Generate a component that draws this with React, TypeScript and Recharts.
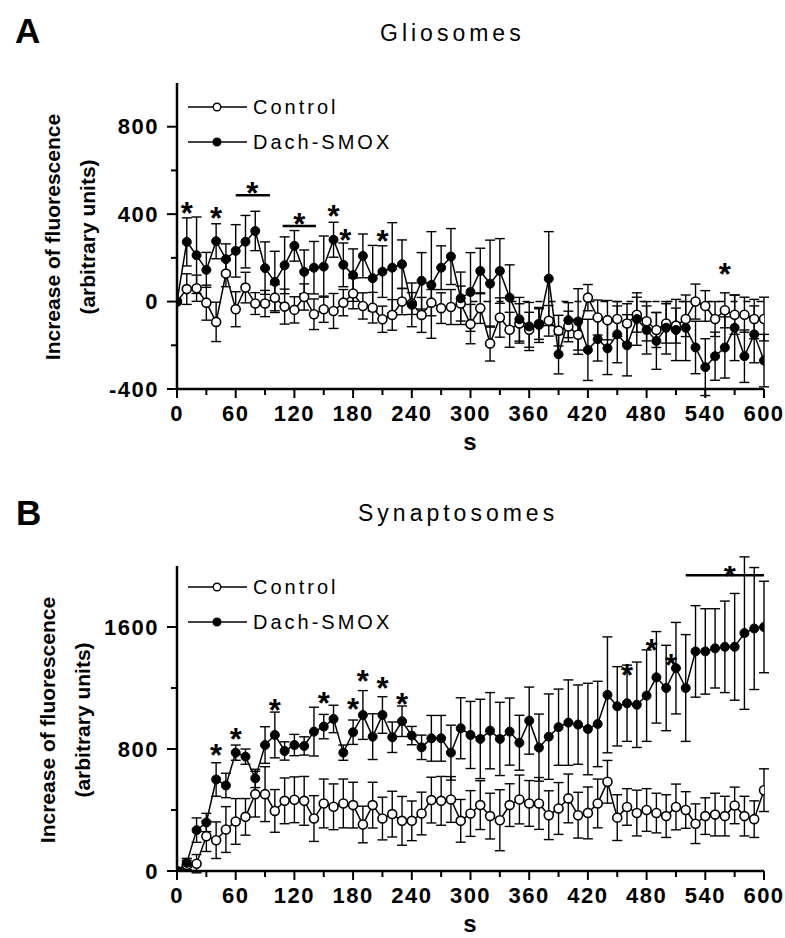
import React from "react";
import {
  ComposedChart,
  Line,
  XAxis,
  YAxis,
  ErrorBar,
  ReferenceLine,
  Scatter,
} from "recharts";

// time points (s)
const seconds = [
  0, 10, 20, 30, 40, 50, 60, 70, 80, 90, 100, 110, 120, 130, 140, 150, 160, 170, 180, 190,
  200, 210, 220, 230, 240, 250, 260, 270, 280, 290, 300, 310, 320, 330, 340, 350, 360, 370,
  380, 390, 400, 410, 420, 430, 440, 450, 460, 470, 480, 490, 500, 510, 520, 530, 540, 550,
  560, 570, 580, 590, 600,
];

const xTicks = [
  0, 30, 60, 90, 120, 150, 180, 210, 240, 270, 300, 330, 360, 390, 420, 450, 480, 510, 540,
  570, 600,
];

// Panel A - Gliosomes
const glioControl = [
  0, 57, 61, -5, -93, 128, -35, 64, -9, -9, 18, -23, -38, 21, -58, -35, -43, -5, 37, -20,
  -28, -81, -61, 0, -9, -61, -5, -30, -25, -9, -103, -30, -192, -73, -129, -100, -129, -103,
  -88, -133, -114, -152, 18, -73, -85, -80, -100, -60, -90, -130, -100, -110, -80, 0, -20,
  -80, -40, -60, -60, -80, -80,
];
const glioControlErr = [
  0, 70, 60, 80, 90, 60, 80, 70, 50, 60, 60, 80, 60, 60, 70, 60, 80, 60, 70, 60,
  70, 60, 70, 60, 50, 80, 60, 70, 80, 80, 90, 70, 80, 90, 80, 90, 80, 70, 70, 70,
  70, 70, 60, 80, 90, 80, 90, 80, 90, 80, 90, 80, 80, 80, 70, 80, 80, 90, 80, 90, 100,
];
const glioSmox = [
  0, 273, 212, 145, 276, 194, 232, 274, 323, 153, 90, 166, 255, 136, 155, 160, 283, 168,
  121, 209, 107, 137, 155, 171, -15, 95, 76, 155, 206, 15, 44, 140, 82, 140, 18, -81, -114,
  -107, 105, -241, -85, -91, -221, -172, -214, -150, -200, -80, -130, -180, -120, -130, -120,
  -210, -300, -250, -210, -120, -250, -150, -270,
];
const glioSmoxErr = [
  0, 110, 175, 80, 80, 70, 120, 120, 90, 120, 140, 130, 70, 100, 120, 140, 80, 100, 120, 100,
  150, 118, 206, 111, 100, 129, 244, 100, 128, 120, 180, 104, 199, 148, 150, 100, 110, 80,
  215, 90, 80, 150, 140, 100, 120, 130, 140, 120, 110, 130, 120, 140, 150, 120, 130, 110, 140,
  150, 120, 130, 120,
];
const glioStars = [
  { s: 10, y: 447 },
  { s: 40, y: 424 },
  { s: 77, y: 538 },
  { s: 125, y: 400 },
  { s: 160, y: 433 },
  { s: 172, y: 323 },
  { s: 210, y: 320 },
  { s: 560, y: 170 },
];
const glioBars = [
  { from: 60, to: 95, y: 486 },
  { from: 108, to: 142, y: 346 },
];

// Panel B - Synaptosomes
const synControl = [
  0, 40, 48, 228, 202, 272, 325, 355, 504, 504, 394, 460, 467, 460, 344, 443, 421, 443, 432,
  305, 432, 344, 373, 329, 329, 377, 465, 460, 469, 329, 377, 432, 360, 333, 432, 469, 443,
  443, 366, 410, 476, 366, 381, 443, 585, 350, 420, 380, 400, 380, 360, 420, 400, 310, 360,
  370, 360, 430, 360, 340, 530,
];
const synControlErr = [
  0, 30, 60, 100, 120, 150, 150, 120, 150, 180, 140, 150, 150, 160, 150, 160, 150, 160, 150,
  120, 150, 140, 150, 160, 130, 140, 150, 160, 150, 140, 150, 160, 150, 200, 140, 160, 150,
  170, 160, 170, 160, 150, 170, 160, 140, 150, 120, 150, 140, 130, 140, 150, 120, 130, 120,
  140, 130, 120, 130, 120, 140,
];
const synSmox = [
  0, 53, 268, 318, 600, 561, 776, 750, 607, 826, 892, 787, 826, 820, 914, 947, 997, 776, 910,
  1023, 881, 1023, 877, 982, 888, 811, 870, 870, 776, 936, 892, 866, 920, 866, 914, 841, 986,
  809, 881, 943, 973, 960, 931, 964, 1155, 1080, 1100, 1090, 1150, 1270, 1200, 1330, 1200,
  1440, 1440, 1460, 1470, 1470, 1560, 1590, 1600,
];
const synSmoxErr = [
  0, 30, 80, 60, 110, 80, 50, 50, 60, 120, 150, 60, 70, 60, 160, 80, 90, 50, 80, 160, 150,
  120, 100, 100, 60, 80, 150, 150, 180, 200, 220, 260, 250, 240, 220, 180, 220, 220, 280, 250,
  280, 260, 300, 280, 380, 260, 250, 280, 300, 300, 280, 300, 350, 300, 280, 260, 300, 350,
  500, 400, 300,
];
const synStars = [
  { s: 40, y: 826 },
  { s: 60, y: 925 },
  { s: 100, y: 1117 },
  { s: 150, y: 1166 },
  { s: 180, y: 1122 },
  { s: 190, y: 1308 },
  { s: 210, y: 1260 },
  { s: 230, y: 1155 },
  { s: 460, y: 1350 },
  { s: 485, y: 1510 },
  { s: 505, y: 1410 },
  { s: 565, y: 2000 },
];
const synBars = [{ from: 520, to: 600, y: 1940 }];

const glioData = seconds.map((s, i) => ({
  s,
  ctrl: glioControl[i],
  ctrlErr: glioControlErr[i],
  smox: glioSmox[i],
  smoxErr: glioSmoxErr[i],
}));

const synData = seconds.map((s, i) => ({
  s,
  ctrl: synControl[i],
  ctrlErr: synControlErr[i],
  smox: synSmox[i],
  smoxErr: synSmoxErr[i],
}));

const FONT = "Arial, 'Liberation Sans', Helvetica, sans-serif";

function XTick({ x, y, payload }: any) {
  const major = payload.value % 60 === 0;
  return (
    <g>
      <line x1={x} y1={y} x2={x} y2={y + (major ? 9 : 6)} stroke="#000" strokeWidth={2} />
      {major && (
        <text
          x={x}
          y={y + 24}
          textAnchor="middle"
          dominantBaseline="central"
          fontFamily={FONT}
          fontWeight="bold"
          fontSize={22}
          letterSpacing={1.5}
          fill="#000"
        >
          {payload.value}
        </text>
      )}
    </g>
  );
}

function makeYTick(majorStep: number) {
  return function YTick({ x, y, payload }: any) {
    const major = payload.value % majorStep === 0;
    return (
      <g>
        <line x1={x} y1={y} x2={x - (major ? 10 : 6)} y2={y} stroke="#000" strokeWidth={2} />
        {major && (
          <text
            x={x - 18}
            y={y}
            textAnchor="end"
            dominantBaseline="central"
            fontFamily={FONT}
            fontWeight="bold"
            fontSize={22}
            letterSpacing={1.5}
            fill="#000"
          >
            {payload.value}
          </text>
        )}
      </g>
    );
  };
}

function Star({ cx, cy }: any) {
  return (
    <text
      x={cx}
      y={cy + 10}
      textAnchor="middle"
      dominantBaseline="central"
      fontFamily={FONT}
      fontWeight="bold"
      fontSize={31}
      fill="#000"
    >
      *
    </text>
  );
}

const openDot = { r: 4.5, fill: "#fff", stroke: "#000", strokeWidth: 1.6 };
const filledDot = { r: 4.5, fill: "#000", stroke: "#000", strokeWidth: 1 };

function Panel({
  data,
  yDomain,
  yTicks,
  majorStep,
  stars,
  bars,
  dashed,
  margin,
  height,
}: any) {
  const YTick = makeYTick(majorStep);
  return (
    <ComposedChart width={785} height={height} data={data} margin={margin}>
      <XAxis
        dataKey="s"
        type="number"
        domain={[0, 600]}
        ticks={xTicks}
        interval={0}
        tickSize={0}
        tickMargin={0}
        tick={<XTick />}
        axisLine={{ stroke: "#000", strokeWidth: 2.5 }}
        height={50}
        allowDataOverflow
      />
      <XAxis
        xAxisId="top"
        dataKey="s"
        type="number"
        orientation="top"
        domain={[0, 600]}
        tick={false}
        tickLine={false}
        axisLine={{ stroke: "#000", strokeWidth: 2.5 }}
        height={0}
      />
      <YAxis
        type="number"
        domain={yDomain}
        ticks={yTicks}
        interval={0}
        tickSize={0}
        tickMargin={0}
        tick={<YTick />}
        axisLine={{ stroke: "#000", strokeWidth: 2.5 }}
        width={60}
        allowDataOverflow
      />
      <YAxis
        yAxisId="right"
        orientation="right"
        domain={yDomain}
        tick={false}
        tickLine={false}
        axisLine={{ stroke: "#000", strokeWidth: 2.5 }}
        width={0}
      />
      {dashed && (
        <ReferenceLine
          segment={[
            { x: dashed[0], y: 0 },
            { x: dashed[1], y: 0 },
          ]}
          stroke="#000"
          strokeWidth={1.6}
          strokeDasharray="7 6"
        />
      )}
      <Line
        dataKey="ctrl"
        stroke="#000"
        strokeWidth={1.5}
        dot={openDot}
        activeDot={false}
        isAnimationActive={false}
      >
        <ErrorBar dataKey="ctrlErr" width={5} stroke="#000" strokeWidth={1.4} direction="y" />
      </Line>
      <Line
        dataKey="smox"
        stroke="#000"
        strokeWidth={1.5}
        dot={filledDot}
        activeDot={false}
        isAnimationActive={false}
      >
        <ErrorBar dataKey="smoxErr" width={5} stroke="#000" strokeWidth={1.4} direction="y" />
      </Line>
      {bars.map((b: any, i: number) => (
        <ReferenceLine
          key={i}
          segment={[
            { x: b.from, y: b.y },
            { x: b.to, y: b.y },
          ]}
          stroke="#000"
          strokeWidth={2.5}
        />
      ))}
      <Scatter data={stars} dataKey="y" shape={Star} isAnimationActive={false} />
    </ComposedChart>
  );
}

function LegendBox({ top }: { top: number }) {
  const row = (label: string, filled: boolean, y: number) => (
    <div style={{ position: "absolute", left: 188, top: y - 12, height: 24, display: "flex", alignItems: "center" }}>
      <svg width={60} height={24}>
        <line x1={0} y1={12} x2={59} y2={12} stroke="#000" strokeWidth={1.5} />
        <circle cx={29} cy={12} r={3.8} fill={filled ? "#000" : "#fff"} stroke="#000" strokeWidth={1.4} />
      </svg>
      <span style={{ marginLeft: 5, fontFamily: FONT, fontSize: 20, letterSpacing: 3, color: "#000" }}>
        {label}
      </span>
    </div>
  );
  return (
    <>
      {row("Control", false, top)}
      {row("Dach-SMOX", true, top + 35)}
    </>
  );
}

function YLabel({ cx1, cx2, cy }: { cx1: number; cx2: number; cy: number }) {
  const st = (cx: number): React.CSSProperties => ({
    position: "absolute",
    left: cx,
    top: cy,
    transform: "translate(-50%, -50%) rotate(-90deg)",
    whiteSpace: "nowrap",
    fontFamily: FONT,
    fontWeight: "bold",
    fontSize: 21,
    color: "#000",
  });
  return (
    <>
      <div style={st(cx1)}>Increase of fluorescence</div>
      <div style={st(cx2)}>(arbitrary units)</div>
    </>
  );
}

const textStyle: React.CSSProperties = {
  position: "absolute",
  fontFamily: FONT,
  color: "#000",
  whiteSpace: "nowrap",
  transform: "translateY(-50%)",
};

export default function App() {
  return (
    <div style={{ position: "absolute", left: 0, top: 0, width: 785, height: 938, background: "#fff", overflow: "hidden" }}>
      <div style={{ position: "absolute", left: 0, top: 0 }}>
        <Panel
          data={glioData}
          yDomain={[-400, 1000]}
          yTicks={[-400, -200, 0, 200, 400, 600, 800]}
          majorStep={400}
          stars={glioStars}
          bars={glioBars}
          dashed={[300, 600]}
          margin={{ top: 83, right: 21, bottom: 31, left: 117 }}
          height={470}
        />
      </div>
      <div style={{ position: "absolute", left: 0, top: 480 }}>
        <Panel
          data={synData}
          yDomain={[0, 2000]}
          yTicks={[0, 400, 800, 1200, 1600]}
          majorStep={800}
          stars={synStars}
          bars={synBars}
          dashed={null}
          margin={{ top: 86, right: 21, bottom: 17, left: 117 }}
          height={458}
        />
      </div>

      <div style={{ ...textStyle, left: 15, top: 31, fontSize: 35, fontWeight: "bold" }}>A</div>
      <div style={{ ...textStyle, left: 16, top: 513, fontSize: 35, fontWeight: "bold" }}>B</div>
      <div style={{ ...textStyle, left: 380, top: 33, fontSize: 23, letterSpacing: 4 }}>Gliosomes</div>
      <div style={{ ...textStyle, left: 358, top: 513, fontSize: 23, letterSpacing: 4 }}>Synaptosomes</div>

      <YLabel cx1={53} cx2={88} cy={237} />
      <YLabel cx1={48} cx2={83} cy={720} />

      <div style={{ ...textStyle, left: 470, top: 442, fontSize: 24, fontWeight: "bold", transform: "translate(-50%, -50%)" }}>s</div>
      <div style={{ ...textStyle, left: 470, top: 924, fontSize: 24, fontWeight: "bold", transform: "translate(-50%, -50%)" }}>s</div>

      <LegendBox top={107} />
      <LegendBox top={587} />
    </div>
  );
}
